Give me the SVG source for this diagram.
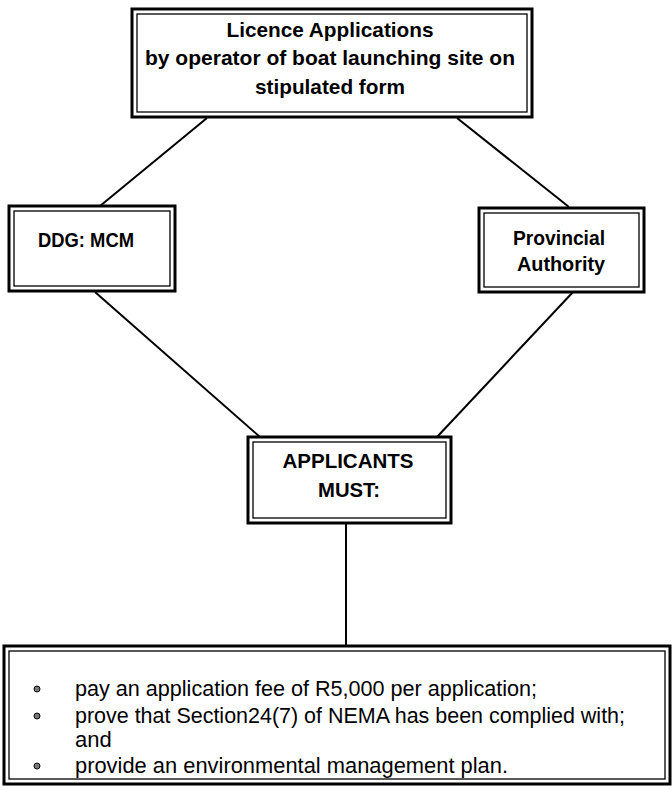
<svg xmlns="http://www.w3.org/2000/svg" width="672" height="790" viewBox="0 0 672 790">
<style>
.outer{fill:#fff;stroke:#000;stroke-width:3}
.inner{fill:none;stroke:#000;stroke-width:1.3}
.t{font-family:"Liberation Sans",Arial,sans-serif;font-weight:bold;font-size:21px;fill:#000;text-anchor:middle}
.b{font-family:"Liberation Sans",Arial,sans-serif;font-size:22px;fill:#000}
.c{stroke:#000;stroke-width:2;fill:none}
.dot{fill:#777;stroke:#000;stroke-width:1}
</style>
<g id="connectors">
<line class="c" x1="207" y1="118" x2="100" y2="206"/>
<line class="c" x1="457" y1="118" x2="569" y2="207"/>
<line class="c" x1="95" y1="292" x2="260" y2="437"/>
<line class="c" x1="573" y1="292" x2="437" y2="437"/>
<line class="c" x1="346" y1="523" x2="346" y2="645"/>
</g>
<g id="licence">
<rect class="outer" x="132" y="9" width="400" height="108"/>
<rect class="inner" x="137" y="14" width="390" height="98"/>
<text class="t" x="330" y="37" textLength="207" lengthAdjust="spacingAndGlyphs">Licence Applications</text>
<text class="t" x="330" y="65" textLength="370" lengthAdjust="spacingAndGlyphs">by operator of boat launching site on</text>
<text class="t" x="330" y="94" textLength="150" lengthAdjust="spacingAndGlyphs">stipulated form</text>
</g>
<g id="ddg">
<rect class="outer" x="9" y="206" width="166" height="85"/>
<rect class="inner" x="14" y="211" width="156" height="75"/>
<text class="t" x="86" y="247" textLength="96" lengthAdjust="spacingAndGlyphs">DDG: MCM</text>
</g>
<g id="provincial">
<rect class="outer" x="479" y="208" width="165" height="84"/>
<rect class="inner" x="484" y="213" width="155" height="74"/>
<text class="t" x="559" y="245" textLength="92" lengthAdjust="spacingAndGlyphs">Provincial</text>
<text class="t" x="561" y="271" textLength="88" lengthAdjust="spacingAndGlyphs">Authority</text>
</g>
<g id="applicants">
<rect class="outer" x="248" y="437" width="203" height="86"/>
<rect class="inner" x="253" y="442" width="193" height="76"/>
<text class="t" x="348" y="468" textLength="131" lengthAdjust="spacingAndGlyphs">APPLICANTS</text>
<text class="t" x="349" y="497" textLength="62" lengthAdjust="spacingAndGlyphs">MUST:</text>
</g>
<g id="requirements">
<rect class="outer" x="4" y="646" width="666" height="138"/>
<rect class="inner" x="9" y="651" width="656" height="128"/>
<circle class="dot" cx="37" cy="689" r="3"/>
<circle class="dot" cx="37" cy="716" r="3"/>
<circle class="dot" cx="37" cy="766" r="3"/>
<text class="b" x="75" y="696" textLength="462" lengthAdjust="spacingAndGlyphs">pay an application fee of R5,000 per application;</text>
<text class="b" x="75" y="723" textLength="550" lengthAdjust="spacingAndGlyphs">prove that Section24(7) of NEMA has been complied with;</text>
<text class="b" x="75" y="747">and</text>
<text class="b" x="75" y="773" textLength="433" lengthAdjust="spacingAndGlyphs">provide an environmental management plan.</text>
</g>
</svg>
